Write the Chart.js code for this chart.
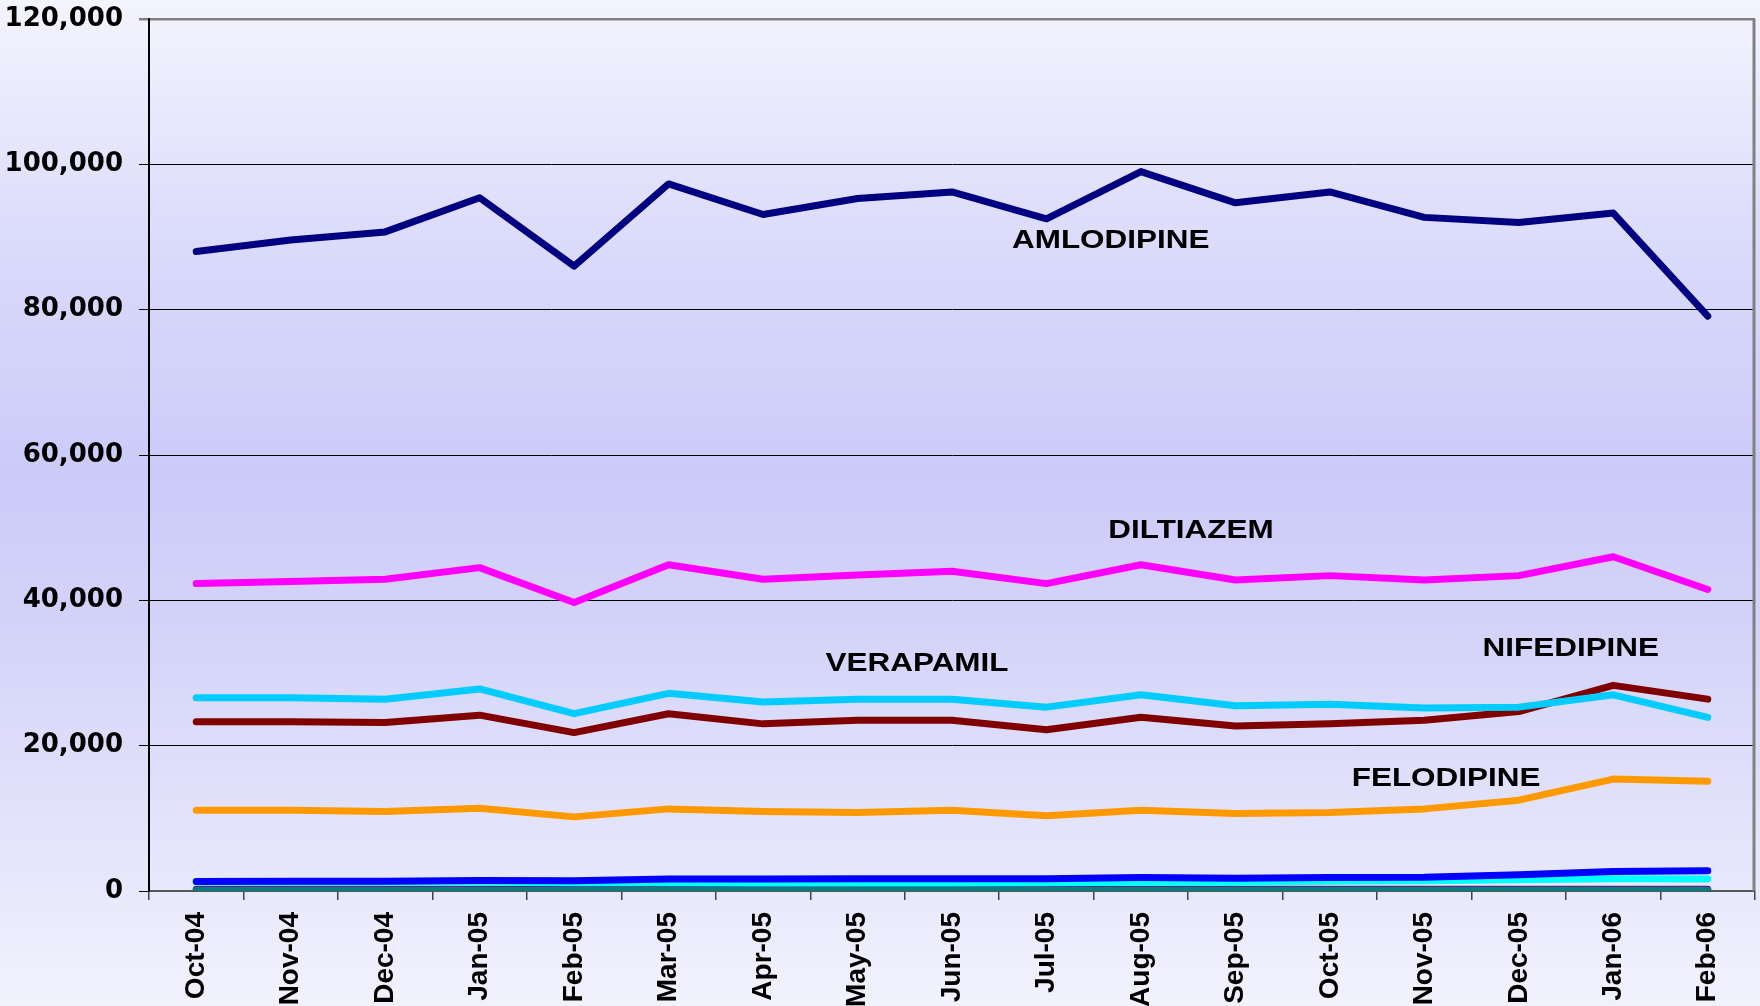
<!DOCTYPE html>
<html>
<head>
<meta charset="utf-8">
<script src="https://cdn.jsdelivr.net/npm/chart.js@4.4.1/dist/chart.umd.min.js"></script>
<style>
  html, body { margin: 0; padding: 0; background: #f2f2fe; }
  #wrap { width: 1760px; height: 1006px; }
</style>
</head>
<body>
<div id="wrap"><canvas id="chart" width="1760" height="1006"></canvas></div>
<script>
// months on the category axis
const months = ['Oct-04', 'Nov-04', 'Dec-04', 'Jan-05', 'Feb-05', 'Mar-05', 'Apr-05', 'May-05', 'Jun-05',
    'Jul-05', 'Aug-05', 'Sep-05', 'Oct-05', 'Nov-05', 'Dec-05', 'Jan-06', 'Feb-06'];

// values
const amlodipine = [88000, 89600, 90700, 95400, 86000, 97300, 93100, 95300, 96200, 92500, 99000, 94700, 96200, 92700, 92000, 93300, 79100];
const diltiazem  = [42300, 42600, 42900, 44500, 39700, 44900, 42900, 43500, 44000, 42300, 44900, 42800, 43400, 42800, 43400, 46000, 41500];
const verapamil  = [26600, 26600, 26400, 27800, 24400, 27200, 26000, 26400, 26400, 25300, 27000, 25500, 25700, 25200, 25300, 27000, 23900];
const nifedipine = [23300, 23300, 23200, 24200, 21800, 24400, 23000, 23500, 23500, 22200, 23900, 22700, 23000, 23500, 24700, 28300, 26400];
const felodipine = [11100, 11100, 10950, 11400, 10200, 11300, 10950, 10800, 11100, 10350, 11100, 10650, 10800, 11300, 12500, 15400, 15100];
const series6    = [1300, 1350, 1350, 1450, 1400, 1650, 1650, 1700, 1700, 1700, 1850, 1750, 1850, 1900, 2250, 2700, 2800];
const series7    = [1250, 1250, 1250, 1250, 1150, 1150, 1100, 1100, 1100, 1150, 1200, 1200, 1350, 1400, 1550, 1700, 1650];
const series8    = [120, 120, 120, 120, 120, 120, 120, 120, 120, 120, 120, 120, 120, 120, 120, 120, 120];
const series9    = [250, 250, 250, 250, 250, 250, 250, 250, 250, 250, 250, 250, 250, 250, 250, 250, 250];

// y axis
const yTicks = [0, 20000, 40000, 60000, 80000, 100000, 120000];

// in-chart series names, anchored in data units (category index, value)
const seriesNames = ['AMLODIPINE', 'DILTIAZEM', 'VERAPAMIL', 'NIFEDIPINE', 'FELODIPINE'];
const nameAtIndex = [9.68, 10.53, 7.63, 14.55, 13.23];
const nameAtValue = [89500, 49550, 31200, 33300, 15500];

function line(label, data, color) {
    return {
        label: label,
        data: data,
        borderColor: color,
        backgroundColor: color,
        borderWidth: 7,
        pointRadius: 0,
        tension: 0,
        borderCapStyle: 'round',
        borderJoinStyle: 'round',
        fill: false
    };
}

const backgroundPlugin = {
    id: 'backgroundPlugin',
    beforeDraw(chart) {
        const { ctx, width, height } = chart;
        const g = ctx.createLinearGradient(0, 0, 0, height);
        g.addColorStop(0, '#f4f4fe');
        g.addColorStop(0.25, '#dadafb');
        g.addColorStop(0.47, '#cbcbf9');
        g.addColorStop(0.62, '#d3d3f9');
        g.addColorStop(0.88, '#e8e8fc');
        g.addColorStop(1, '#f2f2fe');
        ctx.save();
        ctx.fillStyle = g;
        ctx.fillRect(0, 0, width, height);
        ctx.restore();
    }
};

const namesPlugin = {
    id: 'namesPlugin',
    afterDraw(chart) {
        const { ctx, chartArea } = chart;
        const x = chart.scales.x;
        const y = chart.scales.y;

        // grey plot border on the right
        ctx.save();
        ctx.strokeStyle = '#808080';
        ctx.lineWidth = 3;
        ctx.beginPath();
        ctx.moveTo(chartArea.right - 1, chartArea.top);
        ctx.lineTo(chartArea.right - 1, chartArea.bottom);
        ctx.stroke();
        ctx.restore();

        seriesNames.forEach((name, i) => {
            const px = x.getPixelForValue(nameAtIndex[i]);
            const py = y.getPixelForValue(nameAtValue[i]);
            ctx.save();
            ctx.translate(px, py);
            ctx.scale(1.21, 1);
            ctx.font = 'bold 26px "Liberation Sans", Arial, sans-serif';
            ctx.fillStyle = '#000';
            ctx.textAlign = 'center';
            ctx.textBaseline = 'middle';
            ctx.fillText(name, 0, 0);
            ctx.restore();
        });
    }
};

const ctx = document.getElementById('chart').getContext('2d');
const chart = new Chart(ctx, {
    type: 'line',
    data: {
        labels: months,
        datasets: [
            line('AMLODIPINE', amlodipine, '#000080'),
            line('DILTIAZEM', diltiazem, '#ff00ff'),
            line('VERAPAMIL', verapamil, '#00ccff'),
            line('NIFEDIPINE', nifedipine, '#800000'),
            line('FELODIPINE', felodipine, '#ff9900'),
            line('Series 6', series6, '#0000ff'),
            line('Series 7', series7, '#00ffff'),
            line('Series 8', series8, '#008080'),
            line('Series 9', series9, '#800080')
        ]
    },
    options: {
        responsive: false,
        animation: false,
        layout: { padding: { left: 0, right: 5, top: 19, bottom: 0 } },
        plugins: {
            legend: { display: false },
            tooltip: { enabled: false }
        },
        scales: {
            x: {
                offset: true,
                afterFit(scale) {
                    scale.height = 115;
                    scale.paddingLeft = 0;
                    scale.paddingRight = 0;
                },
                grid: {
                    offset: true,
                    drawOnChartArea: false,
                    drawTicks: true,
                    tickLength: 9,
                    color: '#444',
                    lineWidth: 1.5
                },
                border: { color: '#555', width: 2 },
                ticks: {
                    minRotation: 90,
                    maxRotation: 90,
                    padding: 12,
                    autoSkip: false,
                    color: '#000',
                    font: { family: '"Liberation Sans", Arial, sans-serif', size: 28, weight: 'bold' }
                }
            },
            y: {
                min: 0,
                max: 120000,
                afterBuildTicks(axis) {
                    axis.ticks = yTicks.map(v => ({ value: v }));
                },
                afterFit(scale) {
                    scale.width = 149;
                    scale.paddingTop = 0;
                    scale.paddingBottom = 0;
                },
                grid: {
                    color: c => (c.tick && c.tick.value === 120000 ? '#808080' : '#000'),
                    lineWidth: c => (c.tick && c.tick.value === 120000 ? 2.5 : 1),
                    tickLength: 10
                },
                border: { color: '#000', width: 2 },
                ticks: {
                    padding: 16,
                    color: '#000',
                    font: { family: '"DejaVu Sans", Verdana, sans-serif', size: 26, weight: 'bold' },
                    callback: v => v.toLocaleString('en-US')
                }
            }
        }
    },
    plugins: [backgroundPlugin, namesPlugin]
});
</script>
</body>
</html>
